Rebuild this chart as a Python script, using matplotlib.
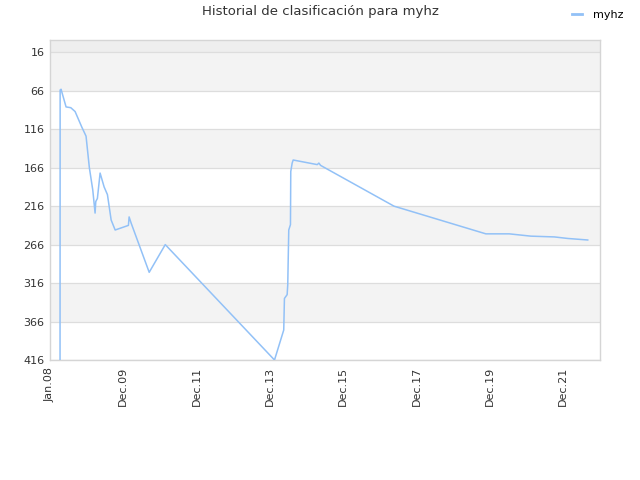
import matplotlib
matplotlib.use("Agg")
import matplotlib.pyplot as plt
import matplotlib.dates as mdates
import numpy as np
import datetime as dt

dates = ["2008-04-10", "2008-04-11", "2008-04-20", "2008-06-09", "2008-07-26", "2008-09-07",
         "2008-11-12", "2008-12-25", "2009-01-27", "2009-03-02", "2009-03-25", "2009-04-01",
         "2009-04-17", "2009-05-14", "2009-06-23", "2009-07-26", "2009-09-01", "2009-10-11",
         "2010-02-20", "2010-02-27", "2010-03-19", "2010-09-15", "2011-02-22", "2014-02-14",
         "2014-05-17", "2014-05-24", "2014-06-20", "2014-06-26", "2014-07-06", "2014-07-23",
         "2014-07-26", "2014-08-09", "2014-08-19", "2015-04-16", "2015-05-02", "2015-05-19",
         "2017-05-19", "2019-11-20", "2020-07-10", "2021-02-11", "2021-10-02", "2022-02-13",
         "2022-08-31"]
ranks = [416, 65, 64, 87, 88, 93,
         113, 125, 166, 195, 225, 210,
         206, 173, 191, 201, 234, 247,
         241, 230, 238, 302, 266, 416,
         377, 336, 331, 318, 247, 240,
         171, 160, 156, 162, 160, 163,
         216, 252, 252, 255, 256, 258,
         260]
tick_labels = ["Jan.08", "Dec.09", "Dec.11", "Dec.13", "Dec.15", "Dec.17", "Dec.19", "Dec.21"]
y_ticks = [16, 66, 116, 166, 216, 266, 316, 366, 416]
series_name = "myhz"
title = "Historial de clasificación para myhz"

x = [dt.datetime.strptime(d, "%Y-%m-%d") for d in dates]
start = dt.datetime(2008, 1, 1)
end = dt.datetime(2022, 12, 31)
tick_pos = [start + dt.timedelta(days=730 * i) for i in range(len(tick_labels))]

fig = plt.figure(figsize=(6.4, 4.8), dpi=100)
ax = fig.add_axes([50/640, 1 - 360/480, 550/640, 320/480])

# alternating bands
ax.axhspan(0, 16, color="#eeeeee", zorder=0, lw=0)
for i in range(len(y_ticks) - 1):
    lo, hi = y_ticks[i], y_ticks[i + 1]
    ax.axhspan(lo, hi, color="#f3f3f3" if i % 2 == 0 else "#ffffff", zorder=0, lw=0)
for yv in y_ticks:
    ax.axhline(yv, color="#dddddd", lw=0.9, zorder=1)

ax.plot(x, ranks, color="#92c1f7", lw=1.1, zorder=3, label=series_name)

ax.set_ylim(416, 0)
ax.set_xlim(start, end)
ax.set_yticks(y_ticks)
ax.set_yticklabels([str(v) for v in y_ticks])
ax.set_xticks(tick_pos)
ax.set_xticklabels(tick_labels, rotation=90)
ax.tick_params(axis="both", labelsize=8, colors="#333333", length=0, pad=4)
ax.tick_params(axis="x", pad=5)
for s in ax.spines.values():
    s.set_color("#d5d5d5")
    s.set_linewidth(1)

fig.text(0.5, 0.975, title, ha="center", va="center", fontsize=9.5, color="#333333")
leg_line = plt.Line2D([], [], color="#92c1f7", lw=2)
fig.legend(handles=[leg_line], labels=[series_name], loc="upper right",
           bbox_to_anchor=(0.99, 1.0), frameon=False, fontsize=8, handlelength=0.9,
           handletextpad=1.0)

fig.savefig("out.png", dpi=100)
